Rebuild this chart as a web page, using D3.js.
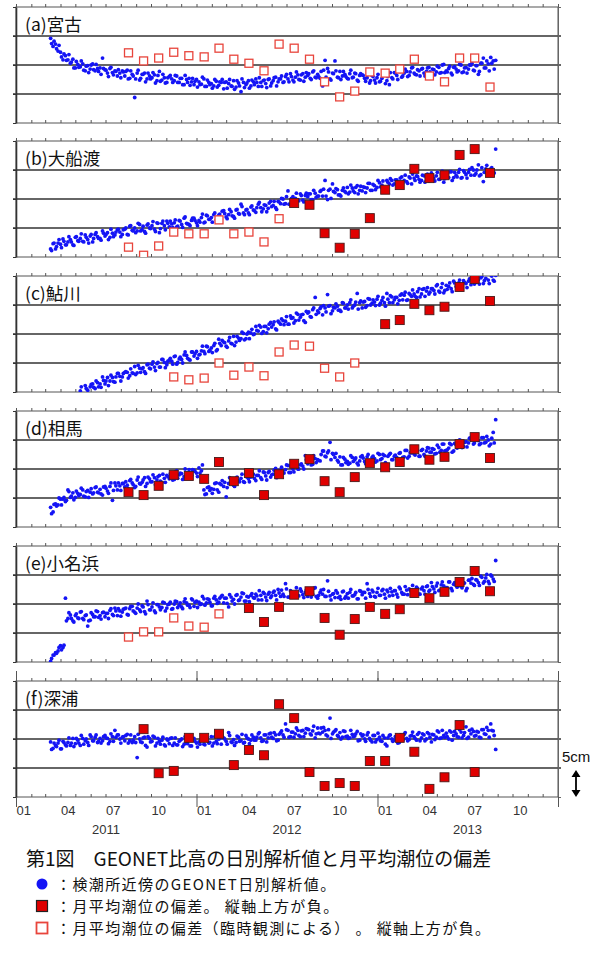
<!DOCTYPE html>
<html>
<head>
<meta charset="utf-8">
<title>GEONET</title>
<style>
  body { margin: 0; background: #fff; }
  svg { display: block; }
  .jp { font-family: "Noto Sans CJK JP", sans-serif; }
  .num { font-family: "Liberation Sans", Arial, sans-serif; }
</style>
</head>
<body>
<svg id="chart" width="602" height="958"></svg>
<script src="https://cdnjs.cloudflare.com/ajax/libs/d3/7.8.5/d3.min.js"></script>
<script>
// station labels and daily series (cm)
// two interleaved samplings per station, each one value every 5 days
const stations = ["(a)宮古", "(b)大船渡", "(c)鮎川", "(d)相馬", "(e)小名浜", "(f)深浦"];
const dailyStart = ["2011-03-12", "2011-03-12", "2011-05-11", "2011-03-12", "2011-03-12", "2011-03-12"];
const dailyStart2 = ["2011-03-14", "2011-03-14", "2011-05-13", "2011-03-14", "2011-03-14", "2011-03-14"];
const dailyStep = 5;

const dailyA = [4.6,3.2,3.6,2.4,2.2,0.9,1.6,0.9,0.3,1.0,
-0.5,0.1,-0.3,0.2,-1.0,-0.1,-0.7,0.2,-1.0,-0.6,
-0.5,1.2,-0.8,-1.4,-0.6,-1.3,-1.0,-1.9,-1.4,-1.0,
-1.9,-0.9,-2.3,-1.6,-5.6,-1.4,-2.6,-1.6,-1.4,-2.4,
-1.9,-2.2,-1.7,-2.7,-1.1,-2.6,-2.2,-3.0,-2.0,-2.4,
-2.7,-1.9,-3.0,-2.3,-3.4,-2.5,-2.3,-2.9,-3.4,-2.5,
-2.9,-3.3,-2.4,-3.7,-3.0,-3.2,-3.6,-2.8,-3.5,-3.0,
-4.1,-2.9,-3.2,-3.6,-2.7,-3.8,-3.1,-4.6,-3.0,-3.4,
-2.7,-3.6,-2.9,-2.4,-3.7,-3.0,-2.7,-3.2,-2.5,-3.6,
-2.7,-2.1,-2.9,-2.4,-3.0,-2.0,-2.4,-1.5,-2.6,-2.1,
-1.7,-2.6,-1.5,-2.1,-1.8,-2.3,-1.2,-2.1,-1.6,-2.3,
-3.6,0.8,-0.6,-2.4,-1.4,0.7,-2.1,-1.1,-1.9,-1.6,
-2.3,-1.5,-2.2,-1.4,-2.6,-1.8,-1.7,-2.3,-2.2,-3.1,
-1.8,-2.6,-2.2,-2.9,-2.3,-1.6,-2.7,-3.4,-2.2,-1.3,
-1.8,-1.1,-2.1,-1.4,-1.1,-1.8,-0.5,-1.4,-1.7,-1.0,
-0.7,-1.4,-1.1,-0.4,-1.7,-0.8,-1.2,-0.4,-1.3,0.1,
-1.0,-0.6,-1.4,-0.4,-0.7,-1.0,0.0,-1.2,-0.4,-0.7,
0.0,-0.9,-0.1,-1.6,0.3,1.2,-0.5,0.2,1.3,0.7,
0.8];
const dailyA2 = [3.7,4.1,2.8,3.4,1.4,1.9,0.8,1.8,0.5,-0.5,
0.6,-0.4,0.7,-0.9,-0.2,-1.3,0.0,-0.8,0.1,-1.1,
-1.6,-0.6,-0.9,-2.0,-0.4,-1.7,-1.1,-0.8,-2.2,-1.2,
-1.1,-2.4,-1.0,-1.9,-2.4,-0.9,-2.3,-1.6,-2.9,-1.4,
-2.4,-1.3,-3.1,-1.8,-2.8,-1.6,-3.1,-2.2,-1.8,-3.0,
-1.8,-3.0,-2.3,-3.4,-1.8,-3.0,-3.5,-2.3,-2.8,-3.8,
-3.4,-2.1,-3.7,-2.6,-3.4,-4.0,-2.5,-3.8,-2.9,-2.5,
-3.0,-4.0,-2.5,-3.7,-4.2,-2.7,-3.6,-2.4,-3.9,-3.1,
-4.0,-2.6,-3.4,-3.0,-2.2,-3.7,-2.6,-3.9,-2.4,-3.1,
-2.2,-3.6,-2.4,-1.9,-2.9,-1.6,-2.9,-2.0,-2.9,-1.2,
-2.5,-1.7,-2.8,-1.3,-1.5,-2.5,-1.0,-2.2,-2.0,-1.1,
-0.9,-2.1,-1.2,-2.6,-1.5,-1.0,-2.2,-2.5,-1.1,-2.0,
-2.4,-0.9,-2.1,-1.5,-2.8,-1.5,-1.8,-2.8,-1.4,-2.7,
-2.0,-3.1,-1.6,-2.8,-1.8,-3.2,-2.0,-1.3,-2.4,-1.4,
-2.5,-1.1,-1.9,-0.7,-2.0,-1.2,-0.4,-1.6,-0.8,-1.9,
-0.6,-1.9,-0.5,-1.2,-0.7,-1.7,-0.2,-1.4,0.0,-1.3,
-1.2,-0.2,-1.7,-0.3,-1.2,0.1,-1.3,-0.5,-1.4,0.0,
0.3,-1.0,-0.1,-1.1,0.3,-0.5,0.7,-1.0,0.3,-0.7];

const dailyB = [-8.6,-7.7,-8.6,-7.6,-7.8,-6.9,-7.9,-7.4,-7.0,-7.9,
-6.6,-7.2,-6.8,-7.3,-6.2,-7.0,-6.4,-7.4,-6.1,-6.5,
-6.8,-5.5,-6.4,-5.8,-6.6,-5.9,-6.2,-5.3,-5.7,-6.1,
-5.2,-6.1,-4.7,-5.4,-5.0,-5.5,-4.4,-5.3,-5.6,-4.5,
-5.0,-4.6,-5.2,-4.1,-5.8,-4.2,-4.6,-3.8,-4.8,-4.3,
-4.1,-4.8,-3.7,-4.4,-3.3,-4.2,-4.4,-3.7,-3.3,-4.1,
-3.7,-3.2,-4.1,-2.8,-3.5,-3.2,-2.7,-3.6,-2.8,-3.2,
-2.0,-3.1,-2.7,-2.2,-3.0,-1.9,-2.5,-0.9,-2.4,-1.9,
-2.4,-1.4,-1.9,-2.3,-0.9,-1.5,-1.7,-1.1,-1.6,-0.4,
-1.1,-1.5,-0.4,-0.8,0.0,-0.8,1.4,-1.0,0.4,0.1,
-0.1,0.9,-0.2,0.6,0.4,0.9,-0.1,1.0,0.5,1.3,
0.5,3.2,-0.1,1.7,2.6,1.1,1.6,0.7,1.5,1.3,
2.0,1.2,1.9,1.1,2.3,1.5,1.4,2.0,1.9,2.7,
1.5,2.3,2.0,2.8,2.4,1.9,3.2,2.6,3.2,2.6,
3.3,2.6,3.8,3.2,3.0,3.8,2.6,3.6,4.0,3.4,
3.2,4.0,3.7,3.1,4.5,3.6,4.0,3.4,4.3,2.9,
4.1,3.7,4.7,3.7,4.1,4.6,3.6,4.9,4.2,4.6,
4.1,5.0,4.4,5.9,4.2,3.0,5.2,4.5,5.2,4.3,
8.6];
const dailyB2 = [-8.9,-7.6,-8.2,-7.0,-8.4,-7.3,-7.9,-6.5,-7.4,-8.0,
-6.5,-7.3,-6.0,-7.4,-6.6,-7.6,-6.1,-6.8,-5.8,-6.8,
-7.1,-5.9,-6.1,-7.0,-5.2,-6.5,-5.7,-5.2,-6.5,-5.3,
-5.0,-6.2,-4.6,-5.5,-5.8,-4.2,-5.5,-4.7,-5.9,-4.3,
-5.1,-3.9,-5.6,-4.2,-5.1,-3.8,-5.3,-4.2,-3.8,-4.9,
-3.6,-4.7,-3.8,-4.9,-3.1,-4.3,-4.6,-3.3,-3.7,-4.6,
-4.0,-2.6,-4.0,-2.9,-3.5,-4.0,-2.4,-3.6,-2.6,-2.1,
-2.5,-3.4,-1.8,-2.9,-3.3,-1.8,-2.6,-1.3,-2.7,-1.8,
-2.7,-1.2,-2.0,-1.5,-0.6,-2.2,-1.0,-2.2,-0.7,-1.3,
-0.4,-1.8,-0.5,0.1,-0.9,0.4,-0.9,0.1,-0.7,1.0,
-0.3,0.6,-0.5,1.0,0.9,-0.1,1.5,0.3,0.5,1.5,
1.7,0.5,1.5,0.1,1.3,1.8,0.7,0.5,1.9,1.1,
0.9,2.4,1.4,2.0,0.9,2.2,2.1,1.1,2.7,1.5,
2.5,1.6,3.2,2.1,3.1,1.7,2.9,3.5,2.4,3.3,
2.2,3.6,2.8,4.1,2.7,3.6,4.3,3.2,3.9,2.9,
4.1,2.9,4.3,3.5,4.1,3.1,4.6,3.4,4.8,3.5,
3.7,4.7,3.2,4.6,3.8,5.1,3.7,4.6,3.6,5.1,
5.4,4.1,5.0,4.0,5.4,4.6,5.8,4.1,5.4,4.5];

const dailyC = [-9.8,-10.3,-8.9,-9.7,-9.1,-8.6,-9.4,-8.4,
-8.6,-7.4,-8.6,-7.5,-8.1,-7.5,-8.3,-6.8,-7.3,-7.4,
-6.6,-6.6,-7.2,-6.7,-5.6,-6.7,-5.9,-6.0,-6.5,-5.3,
-5.9,-5.2,-5.7,-5.1,-5.7,-4.4,-4.9,-5.3,-4.5,-4.7,
-3.9,-5.2,-4.3,-4.4,-3.6,-3.7,-4.4,-3.1,-3.8,-3.0,
-3.6,-2.9,-3.0,-2.1,-3.0,-2.4,-2.0,-2.9,-0.9,-2.0,
-1.4,-2.1,-1.2,-1.6,-0.4,-1.4,-0.7,-0.8,0.1,-0.8,
0.3,0.2,-0.1,1.3,0.5,1.2,0.4,1.3,0.9,2.0,
1.6,0.9,2.2,1.7,2.3,2.2,1.7,3.1,2.8,2.3,
3.4,2.9,3.4,2.0,3.6,3.0,4.2,6.3,4.0,4.4,
3.3,4.5,6.8,4.9,4.0,4.5,4.8,4.1,5.4,4.5,
5.0,5.4,4.5,5.0,7.0,5.4,4.5,5.6,4.9,6.0,
5.3,5.5,6.0,5.0,5.8,5.4,7.0,5.4,6.4,5.9,
6.3,5.8,6.9,6.7,5.8,7.0,6.5,6.9,6.3,7.8,
6.9,7.8,7.4,6.9,7.8,7.5,8.3,7.4,8.0,7.1,
8.4,8.2,7.8,9.1,8.2,8.8,8.0,9.2,8.7,9.1,
8.5,9.8,8.9,9.3,9.7,8.7,9.6,9.3,10.2,9.3,
10.1];
const dailyC2 = [-9.1,-10.4,-9.4,-10.3,-8.7,-9.2,-8.1,-9.1,
-9.2,-8.0,-8.1,-8.9,-7.1,-8.2,-7.4,-6.8,-8.1,-6.8,
-6.5,-7.6,-6.0,-6.8,-7.0,-5.4,-6.6,-5.8,-6.8,-5.2,
-6.0,-4.8,-6.3,-4.9,-5.7,-4.4,-5.8,-4.7,-4.2,-5.2,
-3.8,-4.9,-4.0,-5.0,-3.1,-4.2,-4.5,-3.1,-3.4,-4.2,
-3.5,-2.1,-3.4,-2.2,-2.8,-3.2,-1.6,-2.7,-1.6,-1.1,
-1.5,-2.3,-0.6,-1.7,-2.0,-0.4,-1.1,0.3,-1.0,0.0,
-0.8,0.8,0.0,0.6,1.5,0.1,1.3,0.2,1.7,1.2,
2.1,0.7,2.0,2.6,1.6,3.0,1.7,2.7,1.9,3.6,
2.4,3.3,2.3,3.9,3.8,2.9,4.5,3.4,3.7,4.7,
4.9,3.8,4.8,3.5,4.6,5.2,4.1,3.9,5.3,4.5,
4.3,5.9,4.8,5.5,4.3,5.7,5.5,4.6,6.1,5.0,
5.9,4.9,6.5,5.3,6.3,4.8,6.0,6.6,5.4,6.3,
5.2,6.7,5.9,7.2,5.9,6.8,7.6,6.5,7.3,6.4,
7.7,6.5,8.0,7.2,7.8,6.9,8.5,7.2,8.7,7.5,
7.7,8.8,7.3,8.8,8.0,9.3,8.0,8.9,8.0,9.5,
9.8,8.6,9.5,8.6,9.9,9.2,10.4,8.7,10.0,9.1];

const dailyD = [-6.6,-7.4,-6.0,-6.2,-5.2,-5.2,-5.6,-3.6,-4.9,-4.1,
-4.9,-4.2,-4.4,-3.6,-4.8,-3.7,-4.0,-4.3,-3.2,-4.0,
-3.5,-4.5,-3.0,-3.8,-3.0,-5.4,-2.4,-3.6,-2.9,-2.5,
-3.1,-2.8,-2.0,-2.4,-3.2,-1.9,-2.5,-2.3,-1.5,-2.5,
-1.7,-2.2,-1.5,-1.9,-1.1,-2.3,-1.6,-1.1,-1.7,-1.2,
-1.8,-0.3,-1.0,-0.8,-1.3,-1.0,-0.1,-1.1,-0.2,-0.7,
0.2,-0.3,-3.6,-4.3,-3.1,-3.4,-3.5,-2.4,-4.0,-2.7,
-3.0,-4.8,-2.5,-1.9,-2.8,-1.6,-2.0,-1.6,-2.2,-1.0,
-1.7,-1.4,-0.9,-2.0,-1.1,-1.5,-0.5,-1.2,-0.6,-1.4,
-0.9,0.1,-0.9,-0.2,-0.6,-0.1,0.6,-0.6,0.0,0.7,
0.0,0.7,0.5,2.3,0.9,1.8,0.8,1.8,1.6,1.4,
3.1,2.2,2.8,4.6,2.7,2.0,1.5,2.1,0.7,1.7,
1.3,1.0,2.0,1.6,1.0,1.4,2.3,1.3,2.1,1.1,
2.0,1.8,1.4,2.5,1.8,2.3,0.8,2.5,1.6,2.2,
2.0,2.7,1.8,2.1,3.2,2.2,2.8,2.6,3.4,2.2,
3.2,2.5,3.1,3.6,2.9,3.4,2.7,3.7,3.2,4.3,
3.2,3.6,4.2,3.1,4.2,3.9,4.9,3.9,4.7,4.5,
5.4,4.3,5.3,4.9,4.4,5.4,4.6,5.0,4.3,6.3,
8.5];
const dailyD2 = [-7.7,-6.1,-6.4,-5.0,-6.2,-4.9,-5.4,-3.9,-4.7,-5.3,
-3.8,-4.6,-3.3,-4.7,-3.9,-4.9,-3.4,-4.1,-3.1,-4.1,
-4.3,-3.1,-3.3,-4.2,-2.4,-3.7,-2.9,-2.4,-3.7,-2.5,
-2.2,-3.4,-1.8,-2.7,-3.0,-1.4,-2.6,-1.9,-3.0,-1.4,
-2.2,-1.0,-2.7,-1.3,-2.1,-0.9,-2.3,-1.3,-0.8,-1.9,
-0.5,-1.6,-0.7,-1.8,0.0,-1.1,-1.4,-0.1,-0.4,-1.3,
-0.7,0.7,-4.4,-3.2,-3.7,-4.2,-2.5,-3.6,-2.5,-2.0,
-2.3,-3.2,-1.5,-2.6,-3.0,-1.4,-2.2,-0.9,-2.3,-1.4,
-2.2,-0.8,-1.6,-1.1,-0.3,-1.8,-0.6,-1.9,-0.4,-1.0,
-0.2,-1.5,-0.3,0.3,-0.7,0.7,-0.6,0.4,-0.5,1.2,
0.0,0.9,0.0,1.6,1.5,0.7,2.3,1.1,1.5,2.5,
3.1,2.1,3.1,1.6,2.5,2.7,1.2,0.7,2.0,1.1,
0.8,2.3,1.3,1.9,0.7,2.1,1.9,0.9,2.5,1.3,
2.2,1.2,2.7,1.6,2.5,1.1,2.2,2.7,1.6,2.4,
1.3,2.8,2.0,3.2,1.9,2.8,3.5,2.4,3.2,2.2,
3.4,2.2,3.7,2.9,3.5,2.6,4.1,2.9,4.3,3.1,
3.3,4.4,2.9,4.4,3.6,5.0,3.7,4.6,3.8,5.3,
5.7,4.5,5.3,4.2,5.4,4.5,5.6,4.0,5.3,4.5];

const dailyE = [-9.9,-8.8,-8.4,-8.1,-7.2,-7.5,1.0,-2.5,-1.9,-2.9,
-2.0,-2.4,-1.4,-2.5,-2.0,-3.8,-2.8,-1.8,-2.2,-1.3,
-2.0,-1.5,-2.2,-1.6,-1.1,-1.8,-0.7,-2.0,-1.2,-1.4,
-0.8,-1.8,-0.8,-0.4,-1.4,-0.7,-1.0,-0.3,-1.3,0.5,
-1.0,-0.5,-1.2,-0.1,-0.5,-0.6,0.2,-0.7,0.0,-0.9,
0.0,0.4,-0.2,-0.5,0.4,0.2,-0.2,0.9,-0.4,0.5,
0.3,0.0,0.9,0.2,0.8,-0.3,1.0,0.7,0.3,1.3,
0.2,1.0,-0.5,1.2,0.8,1.5,0.6,1.2,1.8,0.5,
1.2,1.5,1.1,1.7,0.7,1.5,2.0,1.2,1.7,1.1,
2.0,1.5,2.5,1.3,1.7,3.5,1.2,2.3,1.7,2.0,
1.5,2.6,1.6,2.0,1.3,2.2,1.7,2.8,1.0,2.0,
1.7,1.3,4.0,1.4,1.7,1.1,1.9,1.3,2.1,1.0,
1.8,2.0,1.4,1.6,0.9,2.3,1.6,2.0,3.5,1.8,
2.4,1.3,2.0,1.5,2.3,1.7,2.4,1.4,2.1,2.3,
1.7,2.9,2.0,1.7,2.4,2.6,2.0,2.3,2.9,1.7,
2.6,2.3,3.0,2.2,3.7,2.6,3.1,2.3,3.3,3.1,
2.8,3.8,2.7,3.4,3.2,3.8,3.0,3.7,2.3,4.1,
3.6,3.4,4.2,3.7,4.8,3.6,4.5,3.9,5.0,4.3,
7.5];
const dailyE2 = [-9.4,-8.8,-8.5,-7.5,-7.9,-7.1,-2.9,-1.5,-2.5,-3.1,
-1.7,-2.5,-1.3,-2.7,-1.9,-2.9,-1.5,-2.2,-1.2,-2.3,
-2.6,-1.4,-1.6,-2.5,-0.8,-2.0,-1.2,-0.8,-2.1,-0.9,
-0.7,-1.9,-0.4,-1.2,-1.6,0.0,-1.3,-0.5,-1.7,-0.1,
-1.0,0.2,-1.5,-0.1,-1.0,0.3,-1.2,-0.1,0.3,-0.8,
0.5,-0.6,0.2,-0.8,0.9,-0.2,-0.6,0.7,0.3,-0.6,
-0.1,1.3,-0.2,0.9,0.3,-0.3,1.3,0.1,1.0,1.5,
1.0,0.1,1.6,0.5,0.0,1.6,0.7,1.9,0.5,1.3,
0.4,1.8,1.0,1.4,2.3,0.7,1.8,0.6,2.0,1.4,
2.2,0.7,1.9,2.4,1.3,2.6,1.2,2.1,1.2,2.8,
1.4,2.2,1.1,2.4,2.2,1.2,2.7,1.3,1.5,2.4,
2.5,1.3,2.2,0.7,1.8,2.3,1.1,0.8,2.2,1.3,
1.0,2.5,1.4,2.0,0.9,2.2,2.0,1.0,2.5,1.3,
2.1,1.2,2.7,1.5,2.5,1.0,2.1,2.7,1.5,2.3,
1.2,2.6,1.7,3.0,1.6,2.4,3.2,2.0,2.7,1.7,
2.9,1.7,3.1,2.4,3.0,2.0,3.6,2.4,3.8,2.6,
2.8,3.8,2.3,3.7,2.9,4.1,2.8,3.6,2.7,4.1,
4.4,3.2,4.1,3.2,4.6,3.9,5.1,3.5,4.8,3.9];

const dailyF = [-0.5,-1.6,-1.1,-0.7,-1.7,-0.4,-1.0,-0.6,-1.1,0.1,
-0.8,-0.2,-1.1,0.1,-0.3,-0.6,0.7,-0.3,0.3,-0.6,
0.1,-0.3,0.6,0.1,-0.4,0.4,1.5,0.7,0.0,0.3,
-0.3,0.8,-0.3,-0.6,0.4,-3.2,0.0,-0.6,0.3,-1.4,
0.1,-0.4,0.3,-0.7,-0.4,-0.2,-1.0,0.0,-0.8,0.2,
-0.7,-1.0,-0.4,0.0,-0.9,-0.6,-0.2,-1.2,0.1,-0.7,
-0.5,-0.1,-0.9,-0.2,-0.7,0.4,-0.7,-0.4,0.0,-0.9,
0.2,-0.4,1.1,-0.5,-0.1,-0.6,0.3,-0.3,-0.7,0.6,
0.0,-0.2,0.3,-0.2,0.9,0.2,-0.3,0.7,0.2,1.0,
0.1,0.7,-0.2,1.1,0.7,2.6,1.5,0.4,1.2,0.9,
1.5,0.4,1.5,1.0,1.7,0.9,1.4,0.2,1.9,0.9,
1.2,1.5,0.5,3.6,0.9,1.4,0.6,1.1,0.3,1.3,
0.5,0.2,0.8,0.5,1.3,-0.2,0.5,0.0,0.7,0.1,
-0.5,0.6,-0.1,0.3,-0.4,0.2,-1.2,0.6,0.0,-0.2,
0.6,-0.6,0.3,0.8,0.1,-0.1,0.6,0.4,-0.2,1.1,
0.2,0.7,0.0,0.9,-0.5,0.7,0.3,1.2,0.2,0.6,
1.0,0.0,1.2,0.6,0.9,0.3,1.2,0.6,2.1,0.3,
0.9,1.3,0.6,1.2,0.2,1.6,0.8,1.5,2.6,1.4,
-1.8];
const dailyF2 = [-1.8,-0.7,-1.3,-0.2,-1.7,-0.6,-1.2,0.2,-0.7,-1.3,
0.1,-0.7,0.6,-0.9,0.0,-1.1,0.4,-0.3,0.7,-0.4,
-0.7,0.4,0.2,-0.8,0.9,-0.4,0.3,0.7,-0.7,0.4,
0.6,-0.7,0.7,-0.2,-0.6,0.8,-0.5,0.2,-1.1,0.4,
-0.5,0.5,-1.2,0.1,-0.9,0.3,-1.2,-0.2,0.1,-1.1,
0.2,-1.0,-0.2,-1.3,0.4,-0.8,-1.2,0.0,-0.4,-1.4,
-0.9,0.4,-1.0,0.1,-0.6,-1.2,0.4,-0.8,0.1,0.5,
0.0,-0.9,0.6,-0.6,-1.1,0.5,-0.4,0.8,-0.6,0.2,
-0.8,0.7,-0.2,0.3,1.1,-0.4,0.7,-0.5,0.9,0.3,
1.1,-0.3,0.8,1.4,0.3,1.6,0.3,1.2,0.3,1.9,
0.6,1.4,0.4,1.8,1.6,0.7,2.2,0.9,1.0,1.9,
2.0,0.7,1.6,0.1,1.2,1.6,0.4,0.0,1.4,0.4,
0.1,1.5,0.4,0.9,-0.3,0.9,0.7,-0.4,1.1,-0.2,
0.6,-0.5,1.0,-0.3,0.6,-0.9,0.2,0.7,-0.4,0.4,
-0.7,0.7,-0.2,1.1,-0.3,0.5,1.2,0.1,0.8,-0.3,
0.9,-0.3,1.1,0.3,0.8,-0.1,1.4,0.1,1.5,0.3,
0.4,1.4,-0.2,1.3,0.4,1.6,0.2,1.1,0.1,1.5,
1.7,0.5,1.3,0.3,1.6,0.9,2.0,0.3,1.5,0.6];

// monthly mean sea level deviation (cm), Aug 2011 - Aug 2013; null = no value
const months = ["2011-08","2011-09","2011-10","2011-11","2011-12","2012-01","2012-02","2012-03","2012-04",
  "2012-05","2012-06","2012-07","2012-08","2012-09","2012-10","2012-11","2012-12","2013-01","2013-02",
  "2013-03","2013-04","2013-05","2013-06","2013-07","2013-08"];
const monthlyA = [2.1,0.7,1.2,2.2,1.6,1.4,2.9,1.0,0.3,-1.0,3.6,2.9,1.0,-2.9,-5.5,-4.5,-1.2,-1.4,-0.7,1.0,-1.9,-2.9,1.2,1.2,-3.8];
const monthlyB = [-8.3,-9.7,-8.1,-5.7,-6.0,-6.0,-3.6,-6.0,-5.7,-7.4,-3.4,-0.7,-1.0,-5.9,-8.4,-6.0,-3.3,1.6,2.4,5.2,3.6,4.1,7.6,8.6,4.5];
const monthlyC = [null,null,null,-7.4,-7.9,-7.6,-5.0,-7.1,-5.7,-7.2,-3.1,-1.9,-2.1,-5.9,-7.4,-5.0,null,1.7,2.4,5.2,4.1,4.7,8.1,9.5,5.7];
const monthlyD = [-4.0,-4.5,-2.9,-1.0,-1.2,-1.7,1.2,-2.1,-0.7,-4.5,-0.9,0.9,1.7,-2.1,-4.0,-1.4,1.0,0.3,1.2,3.4,1.6,2.1,4.3,5.5,1.9];
const monthlyE = [-5.7,-4.8,-4.8,-2.4,-3.8,-4.0,-1.7,null,-0.7,-3.1,-0.5,1.6,2.2,-2.4,-5.3,-2.6,-0.5,-1.7,-0.9,1.9,1.0,2.1,3.8,5.7,2.2];
const monthlyF = [null,1.7,-5.9,-5.5,0.2,0.2,0.9,-4.5,-1.9,-2.8,6.0,3.6,-5.7,-8.1,-7.6,-8.1,-3.8,-3.8,0.2,-2.2,-8.6,-6.6,2.4,-5.7,null];
// o = temporary observation (open square), f = regular (filled square)
const kindA = "ooooooooooooooooooooooooo";
const kindB = "oooooooooooffffffffffffff";
const kindC = "ooooooooooooooooffffffffff";
const kindD = "fffffffffffffffffffffffff";
const kindE = "oooooooofffffffffffffffff";
const kindF = "fffffffffffffffffffffffff";

const gridValues = [-5, 0, 5];
const years = [2011, 2012, 2013];

const daily = [dailyA, dailyB, dailyC, dailyD, dailyE, dailyF];
const daily2 = [dailyA2, dailyB2, dailyC2, dailyD2, dailyE2, dailyF2];
const monthly = [monthlyA, monthlyB, monthlyC, monthlyD, monthlyE, monthlyF];
const kinds = [kindA, kindB, kindC, kindD, kindE, kindF];

const svg = d3.select("#chart");
const parseDay = d3.timeParse("%Y-%m-%d");
const parseMonth = d3.timeParse("%Y-%m");

const x = d3.scaleTime()
  .domain([new Date(2011, 0, 1), new Date(2014, 0, 1)])
  .range([16, 558]);
const left = 16, right = 558;
const tops = [7, 141, 276, 411, 546, 681];
const ph = 116;

tops.forEach((top, k) => {
  const y = d3.scaleLinear().domain([-10, 10]).range([top + ph, top]);
  const g = svg.append("g");

  g.append("clipPath").attr("id", "clip" + k)
    .append("rect").attr("x", left).attr("y", top).attr("width", right - left).attr("height", ph);

  // grid lines
  g.selectAll(".grid").data(gridValues).enter().append("line")
    .attr("x1", left - 3).attr("x2", right + 3)
    .attr("y1", d => y(d)).attr("y2", d => y(d))
    .attr("stroke", "#333").attr("stroke-width", 1.5);

  // frame
  g.append("rect").attr("x", left).attr("y", top).attr("width", right - left).attr("height", ph)
    .attr("fill", "none").attr("stroke", "#555").attr("stroke-width", 1);

  // month ticks on top (outside) and bottom (inside)
  const topAxis = d3.axisTop(x).ticks(d3.timeMonth.every(1)).tickSize(3).tickFormat("");
  g.append("g").attr("transform", `translate(0,${top})`).call(topAxis)
    .call(s => s.select(".domain").remove())
    .selectAll("line").attr("stroke", "#555");
  g.append("g").attr("transform", `translate(0,${top + ph})`).call(topAxis)
    .call(s => s.select(".domain").remove())
    .selectAll("line").attr("stroke", "#555");

  // left and right axes
  const yl = d3.axisLeft(y).tickValues([-10, -5, 0, 5, 10]).tickSize(3).tickSizeOuter(0).tickFormat("");
  g.append("g").attr("transform", `translate(${left},0)`).call(yl)
    .call(s => s.select(".domain").attr("stroke", "#333").attr("stroke-width", 1.6))
    .selectAll("line").attr("stroke", "#333");
  const yr = d3.axisRight(y).tickValues([-10, -5, 0, 5, 10]).tickSize(3).tickSizeOuter(0).tickFormat("");
  g.append("g").attr("transform", `translate(${right},0)`).call(yr)
    .call(s => s.select(".domain").attr("stroke", "#666"))
    .selectAll("line").attr("stroke", "#666");

  const plot = g.append("g").attr("clip-path", `url(#clip${k})`);

  // daily GEONET values
  const s1 = parseDay(dailyStart[k]), s2 = parseDay(dailyStart2[k]);
  const pts = daily[k].map((v, i) => ({ date: d3.timeDay.offset(s1, i * dailyStep), v }))
    .concat(daily2[k].map((v, i) => ({ date: d3.timeDay.offset(s2, i * dailyStep), v })));
  plot.selectAll(".dot").data(pts).enter().append("circle")
    .attr("cx", d => x(d.date)).attr("cy", d => y(d.v)).attr("r", 1.9)
    .attr("fill", "#1414f5");

  // monthly squares
  const sq = months.map((m, i) => {
    const d0 = parseMonth(m);
    return { cx: (x(d0) + x(d3.timeMonth.offset(d0, 1))) / 2, v: monthly[k][i], kind: kinds[k][i] };
  }).filter(d => d.v !== null);
  plot.selectAll(".sq").data(sq).enter().append("rect")
    .attr("x", d => d.cx - (d.kind === "o" ? 4 : 4.5))
    .attr("y", d => y(d.v) - (d.kind === "o" ? 4 : 4.5))
    .attr("width", d => d.kind === "o" ? 8 : 9)
    .attr("height", d => d.kind === "o" ? 8 : 9)
    .attr("fill", d => d.kind === "o" ? "#fff" : "#e00000")
    .attr("stroke", d => d.kind === "o" ? "#e8453c" : "#4a1a1a")
    .attr("stroke-width", d => d.kind === "o" ? 1.3 : 0.9);

  g.append("text").attr("class", "jp").attr("x", 25).attr("y", top + 24)
    .attr("font-size", 17.5).attr("fill", "#111").text(stations[k]);
});

// bottom axis: year ticks, month labels, year labels
const lastBottom = tops[5] + ph;
const yearTicks = d3.axisBottom(x).ticks(d3.timeYear.every(1)).tickSize(10).tickFormat("");
svg.append("g").attr("transform", `translate(0,${lastBottom})`).call(yearTicks)
  .call(s => s.select(".domain").remove()).selectAll("line").attr("stroke", "#555");
svg.append("g").attr("transform", `translate(0,${tops[5]})`).call(d3.axisTop(x).ticks(d3.timeYear.every(1)).tickSize(10).tickFormat(""))
  .call(s => s.select(".domain").remove()).selectAll("line").attr("stroke", "#555");

const monthAxis = d3.axisBottom(x)
  .tickValues(d3.timeMonth.every(3).range(new Date(2011, 0, 1), new Date(2013, 11, 1)))
  .tickSize(0).tickFormat(d3.timeFormat("%m"));
svg.append("g").attr("transform", `translate(0,${lastBottom + 6})`).call(monthAxis)
  .call(s => s.select(".domain").remove())
  .selectAll("text").attr("class", "num").attr("text-anchor", "start")
  .attr("font-size", 13).attr("fill", "#333");

const yearAxis = d3.axisBottom(x).tickValues(years.map(yv => new Date(yv, 6, 1)))
  .tickSize(0).tickFormat(d3.timeFormat("%Y"));
svg.append("g").attr("transform", `translate(0,${lastBottom + 25})`).call(yearAxis)
  .call(s => s.select(".domain").remove())
  .selectAll("text").attr("class", "num").attr("font-size", 13).attr("fill", "#333");

// scale bar
svg.append("text").attr("class", "num").attr("x", 562).attr("y", 762)
  .attr("font-size", 15).attr("fill", "#111").text("5cm");
const ax = 576, ay1 = 770, ay2 = 797;
svg.append("line").attr("x1", ax).attr("x2", ax).attr("y1", ay1 + 4).attr("y2", ay2 - 4)
  .attr("stroke", "#000").attr("stroke-width", 1.8);
svg.append("path").attr("d", `M${ax},${ay1} l-4.5,7 h9 z M${ax},${ay2} l-4.5,-7 h9 z`).attr("fill", "#000");

// caption and legend
svg.append("text").attr("class", "jp").attr("x", 26).attr("y", 866)
  .attr("font-size", 19).attr("fill", "#111").text("第1図　GEONET比高の日別解析値と月平均潮位の偏差");

const legendText = ["：検潮所近傍のGEONET日別解析値。", "：月平均潮位の偏差。 縦軸上方が負。", "：月平均潮位の偏差（臨時観測による） 。 縦軸上方が負。"];
const legendY = [884, 906, 928];
svg.append("circle").attr("cx", 42).attr("cy", legendY[0]).attr("r", 5.5).attr("fill", "#1414f5");
svg.append("rect").attr("x", 36.5).attr("y", legendY[1] - 5.5).attr("width", 11).attr("height", 11)
  .attr("fill", "#e00000").attr("stroke", "#222").attr("stroke-width", 1.2);
svg.append("rect").attr("x", 36.5).attr("y", legendY[2] - 5.5).attr("width", 11).attr("height", 11)
  .attr("fill", "#fff").attr("stroke", "#e8453c").attr("stroke-width", 1.8);
svg.selectAll(".leg").data(legendText).enter().append("text").attr("class", "jp")
  .attr("x", 56).attr("y", (d, i) => legendY[i] + 5.5).attr("font-size", 15)
  .attr("letter-spacing", 1.4).attr("fill", "#111")
  .text(d => d);
</script>
</body>
</html>
